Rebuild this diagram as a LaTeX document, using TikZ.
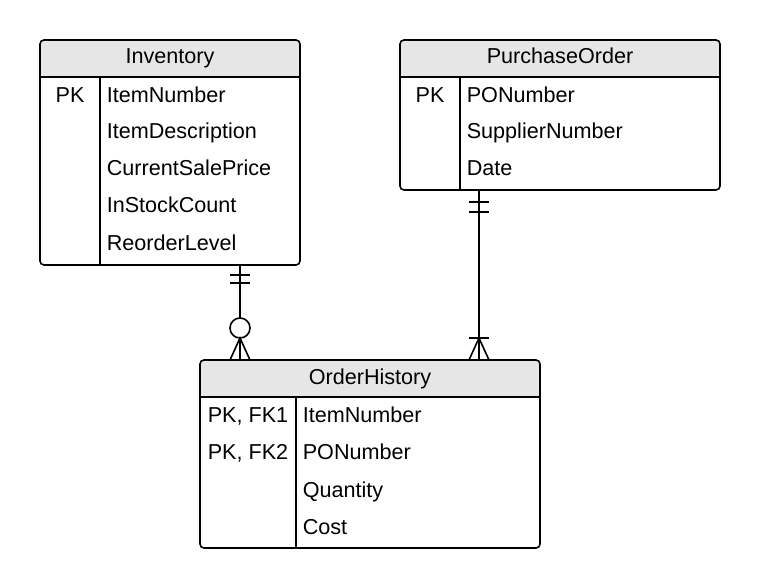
\documentclass[tikz,border=0pt]{standalone}
\usepackage{fontspec}
\setmainfont{Liberation Sans}
\definecolor{headgray}{RGB}{230,230,230}
\tikzset{
	entbox/.style={inner sep=0pt, outer sep=0pt, anchor=north west},
	title/.style={anchor=base, inner sep=0pt},
	attr/.style={anchor=base west, inner sep=0pt},
	keytext/.style={anchor=base, inner sep=0pt},
}
\begin{document}
\begin{tikzpicture}[x=1pt,y=-1pt,line width=1.6pt,font=\fontsize{21.6}{24}\selectfont]
\useasboundingbox (0,0) rectangle (760,588);
% tables
\foreach \Nm/\Xc/\Yc/\Wd/\Ht/\Dv in
{inv/40/40/260/225/60, po/400/40/320/150/60, oh/200/360/340/188/96}
{
	\node[entbox, minimum width=\Wd pt, minimum height=\Ht pt] (\Nm) at (\Xc,\Yc) {};
	\begin{scope}
		\clip[rounded corners=4pt] (\Nm.north west) rectangle (\Nm.south east);
		\fill[headgray] (\Nm.north west) rectangle ++(\Wd,37);
	\end{scope}
	\draw (\Nm.north west) ++(0,37) -- ++(\Wd,0);
	\draw (\Nm.north west) ++(\Dv,37) -- ++(0,\Ht-37);
	\draw[rounded corners=4pt] (\Nm.north west) rectangle (\Nm.south east);
}
% Inventory
\node[title] (invT) at (170,64) {Inventory};
\node[keytext] (invK) at (70,103) {PK};
\foreach \Yc/\Texto in
{103/ItemNumber,139/ItemDescription,176/CurrentSalePrice,213/InStockCount,250/ReorderLevel}
{
	\node[attr] (inv\Yc) at (106,\Yc) {\Texto};
}
% PurchaseOrder
\node[title] (poT) at (560,64) {PurchaseOrder};
\node[keytext] (poK) at (430,103) {PK};
\foreach \Yc/\Texto in
{103/PONumber,139/SupplierNumber,176/Date}
{
	\node[attr] (po\Yc) at (466,\Yc) {\Texto};
}
% OrderHistory
\node[title] (ohT) at (370,384) {OrderHistory};
\foreach \Yc/\Texto in
{422/{PK, FK1},459/{PK, FK2}}
{
	\node[attr] (ohK\Yc) at (207,\Yc) {\Texto};
}
\foreach \Yc/\Texto in
{422/ItemNumber,459/PONumber,497/Quantity,534/Cost}
{
	\node[attr] (oh\Yc) at (302,\Yc) {\Texto};
}
% relationships
\coordinate (invFoot) at ([xshift=70pt]inv.south);
\coordinate (poFoot) at ([xshift=-81pt]po.south);
\coordinate (ohTopL) at (invFoot |- oh.north);
\coordinate (ohTopR) at (poFoot |- oh.north);
\draw (invFoot) -- (ohTopL);
\draw (invFoot) ++(-10,10) -- ++(20,0);
\draw (invFoot) ++(-10,18) -- ++(20,0);
\draw[fill=white] (ohTopL) ++(0,-32) circle[radius=10pt];
\draw (ohTopL) ++(-10,0) -- ++(10,-22) -- ++(10,22);
\draw (poFoot) -- (ohTopR);
\draw (poFoot) ++(-10,12) -- ++(20,0);
\draw (poFoot) ++(-10,22) -- ++(20,0);
\draw (ohTopR) ++(-10,-22) -- ++(20,0);
\draw (ohTopR) ++(-10,0) -- ++(10,-22) -- ++(10,22);
\end{tikzpicture}
\end{document}
